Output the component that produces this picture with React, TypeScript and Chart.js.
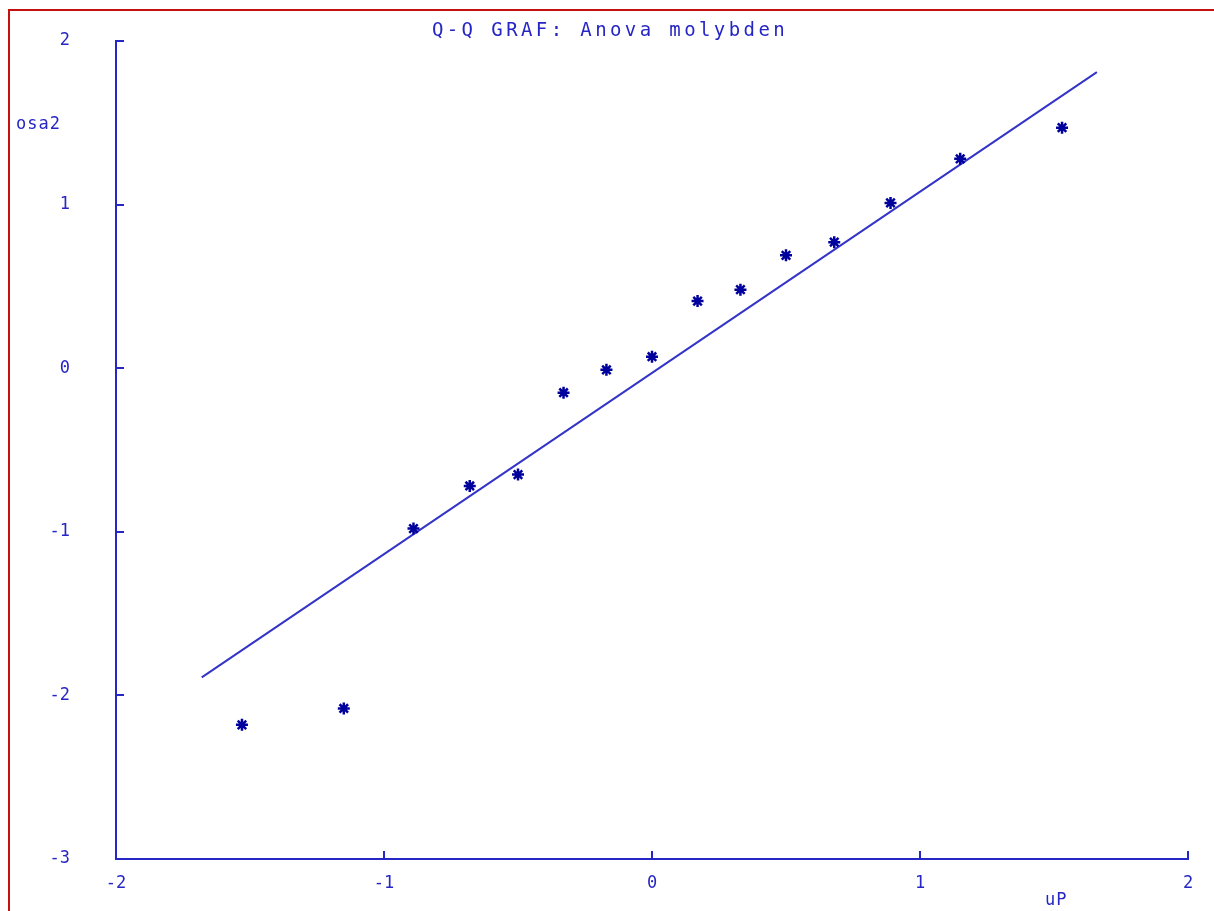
import React, { useEffect, useRef } from "react";
import { Chart, registerables } from "chart.js";

Chart.register(...registerables);

const TITLE = "Q-Q GRAF: Anova molybden";
const Y_LABEL = "osa2";
const X_LABEL = "uP";

const quantilesX = [-1.53, -1.15, -0.89, -0.68, -0.5, -0.33, -0.17, 0, 0.17, 0.33, 0.5, 0.68, 0.89, 1.15, 1.53];
const sampleY = [-2.18, -2.08, -0.98, -0.72, -0.65, -0.15, -0.01, 0.07, 0.41, 0.48, 0.69, 0.77, 1.01, 1.28, 1.47];
const lineX = [-1.68, 1.66];
const lineY = [-1.89, 1.81];

const X_MIN = -2;
const X_MAX = 2;
const Y_MIN = -3;
const Y_MAX = 2;

const BLUE = "#2626c4";
const MARK = "#00009c";
const LINE = "#3434c8";
const FONT = "'DejaVu Sans Mono', monospace";

const inwardTicks = {
  id: "inwardTicks",
  afterDraw(chart: any) {
    const { ctx, chartArea } = chart;
    const xs = chart.scales.x;
    const ys = chart.scales.y;
    ctx.save();
    ctx.strokeStyle = BLUE;
    ctx.lineWidth = 2;
    ctx.beginPath();
    ys.ticks.forEach((t: any) => {
      const p = Math.round(ys.getPixelForValue(t.value));
      ctx.moveTo(chartArea.left, p);
      ctx.lineTo(chartArea.left + 8, p);
    });
    xs.ticks.forEach((t: any) => {
      const p = Math.round(xs.getPixelForValue(t.value));
      ctx.moveTo(p, chartArea.bottom);
      ctx.lineTo(p, chartArea.bottom - 8);
    });
    ctx.stroke();

    ctx.fillStyle = BLUE;
    ctx.textBaseline = "middle";
    ctx.font = `19px ${FONT}`;
    (ctx as any).letterSpacing = "3.4px";
    ctx.textAlign = "left";
    const w = ctx.measureText(TITLE).width;
    ctx.fillText(TITLE, 610 - w / 2, 31);
    (ctx as any).letterSpacing = "1px";
    ctx.font = `17px ${FONT}`;
    ctx.fillText(Y_LABEL, 16, 125);
    ctx.fillText(X_LABEL, 1045, 901);
    ctx.restore();
  },
};

export default function App() {
  const ref = useRef<HTMLCanvasElement | null>(null);

  useEffect(() => {
    if (!ref.current) return;
    const points = quantilesX.map((x, i) => ({ x, y: sampleY[i] }));
    const linePts = lineX.map((x, i) => ({ x, y: lineY[i] }));
    const tickFont = { family: FONT, size: 17 };
    const chart = new Chart(ref.current, {
      type: "scatter",
      data: {
        datasets: [
          {
            label: "data",
            data: points,
            pointStyle: "star",
            pointRadius: 6,
            pointBorderWidth: 2.5,
            borderColor: MARK,
            backgroundColor: MARK,
            showLine: false,
          },
          {
            label: "fit",
            data: linePts,
            showLine: true,
            pointRadius: 0,
            borderColor: LINE,
            borderWidth: 2,
            fill: false,
          },
        ],
      },
      options: {
        animation: false,
        responsive: false,
        layout: { padding: { top: 41, right: 26, left: 0, bottom: 0 } },
        plugins: { legend: { display: false }, title: { display: false }, tooltip: { enabled: false } },
        scales: {
          x: {
            type: "linear",
            min: X_MIN,
            max: X_MAX,
            afterFit(scale: any) {
              scale.height = 52;
              scale.paddingLeft = 0;
              scale.paddingRight = 0;
            },
            ticks: { stepSize: 1, color: BLUE, font: tickFont, padding: 14, maxRotation: 0 },
            grid: { drawOnChartArea: false, drawTicks: false },
            border: { display: true, color: BLUE, width: 2 },
          },
          y: {
            type: "linear",
            min: Y_MIN,
            max: Y_MAX,
            afterFit(scale: any) {
              scale.width = 116;
              scale.paddingTop = 0;
              scale.paddingBottom = 0;
            },
            ticks: { stepSize: 1, color: BLUE, font: tickFont, padding: 46 },
            grid: { drawOnChartArea: false, drawTicks: false },
            border: { display: true, color: BLUE, width: 2 },
          },
        },
      },
      plugins: [inwardTicks],
    } as any);
    return () => chart.destroy();
  }, []);

  return (
    <div style={{ position: "fixed", left: 0, top: 0, width: 1214, height: 911, background: "#fff", overflow: "hidden" }}>
      <div
        style={{
          position: "absolute",
          left: 8,
          top: 9,
          right: 0,
          bottom: 0,
          borderTop: "2px solid #c41010",
          borderLeft: "2px solid #c41010",
        }}
      />
      <canvas ref={ref} width={1214} height={911} style={{ position: "absolute", left: 0, top: 0, display: "block" }} />
    </div>
  );
}
